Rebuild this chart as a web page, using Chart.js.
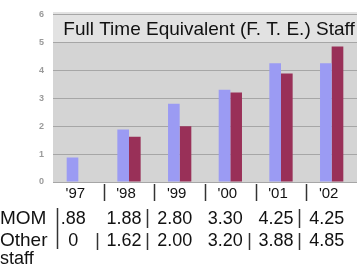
<!DOCTYPE html>
<html lang="en">
<head>
  <meta charset="UTF-8">
  <title>Full Time Equivalent Staff</title>
  <script src="https://cdn.jsdelivr.net/npm/chart.js@4.4.1/dist/chart.umd.min.js"></script>
  <style>
    html, body { margin: 0; padding: 0; background: #ffffff; }
    #wrap { width: 357px; height: 265px; }
  </style>
</head>
<body>
  <div id="wrap"><canvas id="fteChart" width="357" height="265"></canvas></div>

  <script>
    const years = ["'97", "'98", "'99", "'00", "'01", "'02"];
    const momValues = [0.88, 1.88, 2.80, 3.30, 4.25, 4.25];
    const otherValues = [0, 1.62, 2.00, 3.20, 3.88, 4.85];
    const momLabels = [".88", "1.88", "2.80", "3.30", "4.25", "4.25"];
    const otherLabels = ["0", "1.62", "2.00", "3.20", "3.88", "4.85"];
    const rowNames = ["MOM", "Other", "staff"];
    const chartTitle = "Full Time Equivalent (F. T. E.) Staff";

    const FONT = '"Liberation Sans", Arial, sans-serif';

    // gray plot area + lighter band behind the title
    const plotBackground = {
      id: 'plotBackground',
      beforeDraw(chart) {
        const { ctx, chartArea: a } = chart;
        ctx.save();
        ctx.fillStyle = '#d4d4d4';
        ctx.fillRect(a.left, a.top - 2, a.right - a.left, a.bottom - a.top + 2);
        ctx.fillStyle = '#e2e2e2';
        ctx.fillRect(a.left, a.top - 2, a.right - a.left, 30);
        ctx.restore();
      }
    };

    // title inside the plot and the data table under it
    const titleAndTable = {
      id: 'titleAndTable',
      afterDraw(chart) {
        const { ctx, chartArea: a } = chart;
        const x = chart.scales.x;
        const half = (x.getPixelForValue(1) - x.getPixelForValue(0)) / 2;

        ctx.save();
        ctx.fillStyle = '#111';
        ctx.textBaseline = 'middle';

        ctx.font = '19px ' + FONT;
        ctx.textAlign = 'center';
        ctx.fillText(chartTitle, (a.left + a.right) / 2 + 4, a.top + 15);

        // year header
        ctx.font = '15px ' + FONT;
        years.forEach((y, i) => ctx.fillText(y, x.getPixelForValue(i) - 3, 194));

        // values
        ctx.font = '18px ' + FONT;
        momLabels.forEach((v, i) => ctx.fillText(v, x.getPixelForValue(i) - 5, 219));
        otherLabels.forEach((v, i) => ctx.fillText(v, x.getPixelForValue(i) - 5, 241));

        // row names
        ctx.font = '19px ' + FONT;
        ctx.textAlign = 'left';
        ctx.fillText(rowNames[0], 0, 219);
        ctx.fillText(rowNames[1], 0, 241);
        ctx.font = '18px ' + FONT;
        ctx.fillText(rowNames[2], 0, 259);

        // separators
        ctx.strokeStyle = '#333';
        ctx.lineWidth = 1.5;
        const vline = (px, y0, y1) => {
          ctx.beginPath();
          ctx.moveTo(Math.round(px) + 0.5, y0);
          ctx.lineTo(Math.round(px) + 0.5, y1);
          ctx.stroke();
        };
        for (let i = 1; i < years.length; i++) {
          vline(x.getPixelForValue(i) - half, 184, 201);
        }
        vline(a.left + 4, 208, 249);
        [2, 5].forEach(i => vline(x.getPixelForValue(i) - half - 7, 209, 228));
        [1, 2, 4, 5].forEach(i => vline(x.getPixelForValue(i) - half - 7, 233, 250));

        ctx.restore();
      }
    };

    new Chart(document.getElementById('fteChart'), {
      type: 'bar',
      data: {
        labels: years,
        datasets: [
          {
            label: 'MOM',
            data: momValues,
            backgroundColor: '#9b9bf3',
            categoryPercentage: 0.46,
            barPercentage: 1.0
          },
          {
            label: 'Other staff',
            data: otherValues,
            backgroundColor: '#993058',
            categoryPercentage: 0.46,
            barPercentage: 1.0
          }
        ]
      },
      options: {
        responsive: false,
        animation: false,
        devicePixelRatio: 1,
        layout: { padding: { top: 12, bottom: 83, left: 0, right: 0 } },
        plugins: {
          legend: { display: false },
          tooltip: { enabled: false },
          title: { display: false }
        },
        scales: {
          x: {
            display: false
          },
          y: {
            min: 0,
            max: 6,
            ticks: {
              stepSize: 1,
              padding: 9,
              color: '#9a9a9a',
              font: { family: FONT, size: 9, weight: 'bold' }
            },
            grid: { color: '#a6a6a6', drawTicks: false },
            border: { display: false },
            afterFit(scale) { scale.width = 53; }
          }
        }
      },
      plugins: [plotBackground, titleAndTable]
    });
  </script>
</body>
</html>
